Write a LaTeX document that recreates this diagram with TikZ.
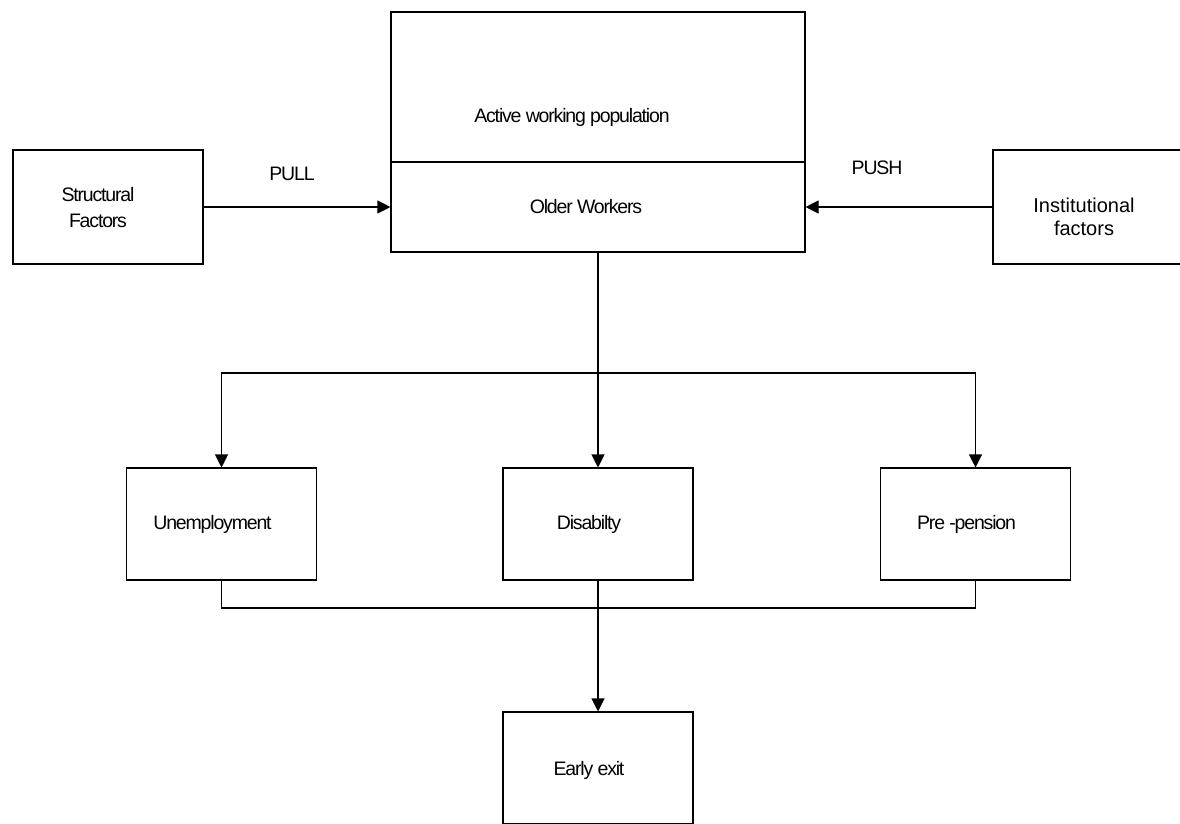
\documentclass[tikz,border=0pt]{standalone}
\usepackage{fontspec}
\setmainfont{Liberation Sans}
\newfontfamily\tightsans[LetterSpace=-6]{Liberation Sans}
\usetikzlibrary{arrows.meta}

\tikzset{
  block/.style={draw, line width=1.1pt, minimum width=190, minimum height=112, inner sep=0pt},
  lbl/.style={font=\tightsans\fontsize{19.5}{26}\selectfont, align=center, inner sep=0pt},
  flow/.style={line width=1.1pt, -{Triangle[width=13pt,length=13pt]}},
  link/.style={line width=1.1pt}
}

\begin{document}
\begin{tikzpicture}[x=1pt,y=-1pt]
        \clip (0,0) rectangle (1180,823);

        \node[block, minimum width=414, minimum height=150] (awp) at (598,87) {};
        \node[block, minimum width=414, minimum height=90] (owk) at (598,207) {};
        \node[block, minimum height=114] (sf) at (108,207) {};
        \node[block, minimum height=114] (inst) at (1088,207) {};
        \node[block] (exit) at (598,768) {};

        \node[lbl] at (572,117) {Active working population};
        \node[lbl] at (586,207) {Older Workers};
        \node[lbl] at (98,208) {Structural\\Factors};
        \node[lbl, font=\fontsize{20}{23}\selectfont] at (1084,217) {Institutional\\factors};
        \node[lbl] at (292,174) {PULL};
        \node[lbl] at (877,168) {PUSH};
        \node[lbl] at (589,770) {Early exit};

        \foreach \name/\x/\txt in {unemp/221.5/Unemployment, dis/598/Disabilty, prep/975.5/Pre -pension}{
          \node[block] (\name) at (\x,524) {};
          \node[lbl] at (\x-9,524) {\txt};
          }

        \coordinate (split) at (598,373);
        \coordinate (merge) at (598,608);

        \draw[flow] (sf) -- (owk);
        \draw[flow] (inst) -- (owk);
        \draw[flow] (owk) -- (dis);
        \draw[flow] (split) -| (unemp);
        \draw[flow] (split) -| (prep);
        \draw[link] (unemp) |- (merge) -| (prep);
        \draw[flow] (dis) -- (exit);
      \end{tikzpicture}
\end{document}
